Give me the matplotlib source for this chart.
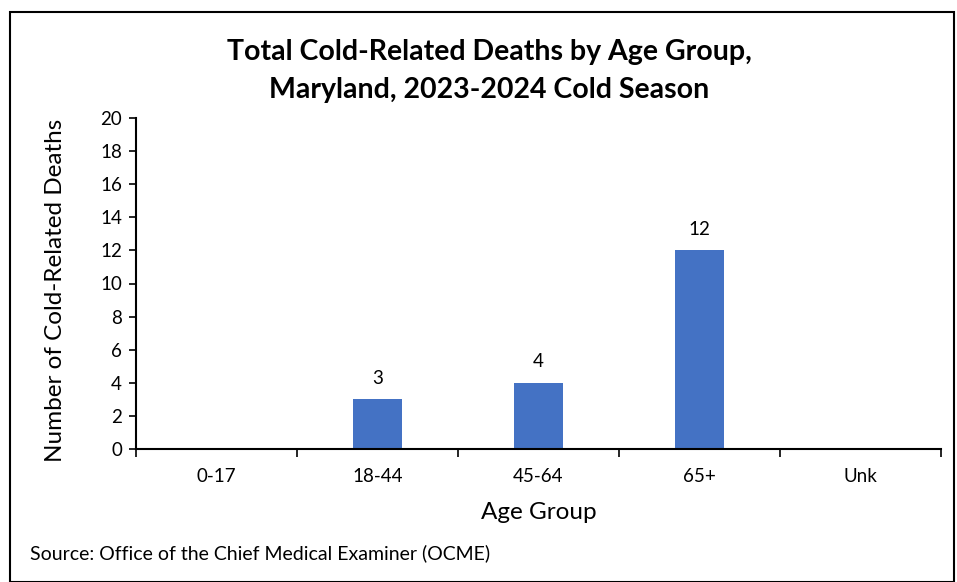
import numpy as np
import matplotlib.pyplot as plt
from matplotlib.patches import Rectangle

age_groups = ["0-17", "18-44", "45-64", "65+", "Unk"]
deaths = [0, 3, 4, 12, 0]
y_ticks = list(range(0, 21, 2))

plt.rcParams['font.family'] = ['Lato', 'DejaVu Sans']

fig = plt.figure(figsize=(9.57, 5.82), dpi=100)
# outer frame
fig.patches.append(Rectangle((10 / 957, 0.5 / 582), 944 / 957, 570 / 582,
                             transform=fig.transFigure, fill=False,
                             edgecolor='black', linewidth=1.5))

ax = fig.add_axes([136 / 957, 1 - 449 / 582, 805 / 957, 331 / 582])
x = np.arange(len(age_groups))
bars = ax.bar(x, deaths, width=0.31, color='#4472C4')

for xi, v in zip(x, deaths):
    if v > 0:
        ax.annotate(str(v), (xi, v), xytext=(0, 9), textcoords='offset points',
                    ha='center', va='bottom', fontsize=13.5)

ax.set_xlim(-0.5, len(age_groups) - 0.5)
ax.set_ylim(0, 20)
ax.set_yticks(y_ticks)
ax.tick_params(axis='y', labelsize=13.5, length=5, width=1.2, pad=5)

# category labels centered, tick marks at boundaries
ax.set_xticks(x)
ax.set_xticklabels(age_groups, fontsize=13.5)
ax.tick_params(axis='x', which='major', length=0, pad=14)
ax.set_xticks(np.arange(-0.5, len(age_groups)), minor=True)
ax.tick_params(axis='x', which='minor', length=6, width=1.2)

for side in ['top', 'right']:
    ax.spines[side].set_visible(False)
for side in ['left', 'bottom']:
    ax.spines[side].set_linewidth(1.5)

ax.set_xlabel("Age Group", fontsize=17.5, labelpad=12)
ax.set_ylabel("Number of Cold-Related Deaths", fontsize=17.5)
ax.yaxis.set_label_coords(-0.087, 0.48)

fig.text(489 / 957, 1 - 52 / 582, "Total Cold-Related Deaths by Age Group,",
         ha='center', va='center', fontsize=20.5, fontweight='bold')
fig.text(489 / 957, 1 - 90 / 582, "Maryland, 2023-2024 Cold Season",
         ha='center', va='center', fontsize=20.5, fontweight='bold')
fig.text(30 / 957, 1 - 553 / 582, "Source: Office of the Chief Medical Examiner (OCME)",
         ha='left', va='center', fontsize=14)

fig.savefig("out.png", dpi=100)
